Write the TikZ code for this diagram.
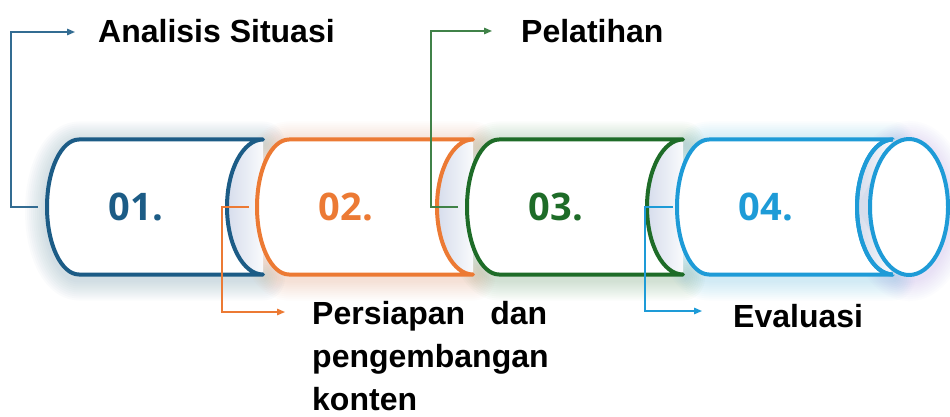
\documentclass[tikz,border=0pt]{standalone}
\usepackage{fontspec}
\setmainfont{Liberation Sans}
\newfontfamily\numfont{Open Sans}
\usetikzlibrary{arrows.meta}
\definecolor{cA}{RGB}{28,92,134}
\definecolor{cB}{RGB}{236,122,52}
\definecolor{cC}{RGB}{30,108,40}
\definecolor{cD}{RGB}{30,155,215}
\definecolor{hollow}{RGB}{214,221,236}
\begin{document}
\begin{tikzpicture}[x=1pt,y=-1pt,
  frame/.style={minimum width=216pt,minimum height=135pt,inner sep=0pt},
  num/.style={font=\numfont\bfseries\fontsize{38}{40}\selectfont,anchor=base,inner sep=0pt},
  lab/.style={font=\bfseries\fontsize{32}{43}\selectfont,inner sep=0pt,text=black},
  conn/.style={draw=#1,line width=1.4pt,-{Triangle[length=8pt,width=6.5pt]}},
  rim/.style={line width=4pt,line join=round},
  cylpath/.style={insert path={(#1+32,139.5) -- (#1+216,139.5)
      arc[start angle=-90,end angle=-270,x radius=36,y radius=67.5]
      -- (#1+32,274.5)
      arc[start angle=90,end angle=270,x radius=32,y radius=67.5] -- cycle}},
  hollowpath/.style={insert path={(#1+216,139.5)
      arc[start angle=-90,end angle=-270,x radius=36,y radius=67.5] -- cycle}},
]
\useasboundingbox[fill=white] (0,0) rectangle (950,417);

% soft coloured halo under every cylinder
\foreach \i/\col in {1/cA,2/cB,3/cC,4/cD} {
  \pgfmathsetmacro\xo{47+210*(\i-1)}
  \foreach \k in {1,...,10} {
    \pgfmathsetmacro\lw{4+4*\k}
    \draw[\col,opacity=0.018,line width=\lw pt,line join=round,yshift=-4pt,cylpath=\xo];
  }
}
\foreach \k in {1,...,10} {
  \pgfmathsetmacro\lw{4+4*\k}
  \draw[cD!60!magenta,opacity=0.015,line width=\lw pt,yshift=-4pt] (909,207) ellipse[x radius=39,y radius=68];
}

% the four cylinders
\foreach \i/\col in {1/cA,2/cB,3/cC,4/cD} {
  \pgfmathsetmacro\xo{47+210*(\i-1)}
  \node[frame] (c\i) at (\xo+108,207) {};
  \fill[white,cylpath=\xo];
  \shade[left color=hollow,right color=hollow!15,hollowpath=\xo];
  \draw[rim,\col,cylpath=\xo];
  \node[num,text=\col] (n\i) at (\xo+89,220) {0\i.};
}
% end cap of the last cylinder
\fill[hollow] (857,207) -- (893,139.5) -- (909,139) -- (909,275) -- (893,274.5) -- cycle;
\draw[rim,cD] (893,139.5) arc[start angle=-90,end angle=-270,x radius=36,y radius=67.5];
\draw[rim,cD,fill=white] (909,207) ellipse[x radius=39,y radius=68];

% connector ends
\coordinate (s1) at (38,207);  \coordinate (e1) at (75,32);
\coordinate (s2) at (249,207); \coordinate (e2) at (285,312);
\coordinate (s3) at (458,207); \coordinate (e3) at (492,31);
\coordinate (s4) at (673,207); \coordinate (e4) at (702,311);

% labels
\node[lab,anchor=base west] (l1) at (98,43) {Analisis Situasi};
\node[lab,anchor=north west,align=left] (l2) at (312,301)
  {\hbox to 235pt{Persiapan\hfill dan}\\pengembangan\\konten};
\node[lab,anchor=base west] (l3) at (521,43) {Pelatihan};
\node[lab,anchor=base west] (l4) at (733,327) {Evaluasi};

% connectors
\draw[conn=cA!90] (s1) -- ++(-27,0) |- (e1);
\draw[conn=cB] (s2) -- ++(-27,0) |- (e2);
\draw[conn=cC!85] (s3) -- ++(-27,0) |- (e3);
\draw[conn=cD] (s4) -- ++(-28,0) |- (e4);
\end{tikzpicture}
\end{document}
